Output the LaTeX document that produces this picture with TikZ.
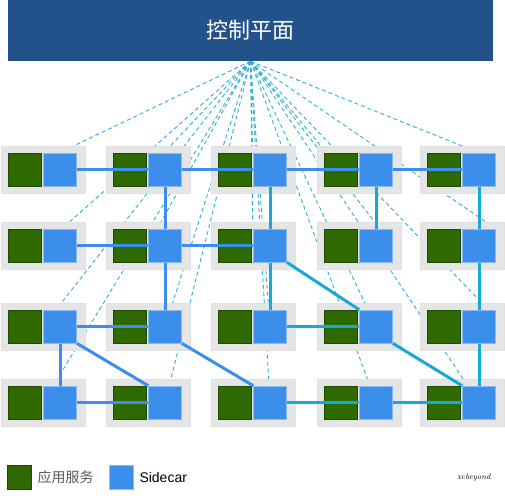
\documentclass[tikz,border=0pt]{standalone}
\usepackage{fontspec}
\newfontfamily\cjk{Noto Sans CJK SC}
\newfontfamily\arial{Liberation Sans}
\usetikzlibrary{positioning}
\definecolor{plane}{HTML}{23518A}
\definecolor{appgreen}{HTML}{2E6A00}
\definecolor{carblue}{HTML}{3B8EE9}
\definecolor{linkcyan}{HTML}{16A9D4}
\definecolor{dashcyan}{HTML}{2BAFD7}
\definecolor{podgray}{HTML}{E5E5E5}
\pgfdeclarelayer{dashes}
\pgfdeclarelayer{pods}
\pgfdeclarelayer{links}
\pgfsetlayers{dashes,pods,links,main}

\begin{document}
\begin{tikzpicture}
[x=1pt,y=-1pt,%
  pod/.style={draw=black!12,fill=podgray,line width=0.8pt,minimum width=84pt,minimum height=47pt,inner sep=0pt},%
  app/.style={draw=appgreen!70!black,fill=appgreen,line width=0.6pt,minimum size=33pt,inner sep=0pt},%
  car/.style={draw=carblue!60!white,fill=carblue,line width=0.6pt,minimum size=33pt,inner sep=0pt},%
  blue link/.style={carblue,line width=3pt},%
  cyan link/.style={linkcyan,line width=3pt},%
  ctrl/.style={dashcyan,line width=0.9pt,dash pattern=on 4pt off 3pt}]
\useasboundingbox (0,0) rectangle (505,500);
\node[fill=plane,minimum width=485pt,minimum height=61pt,inner sep=0pt,text=white,font=\cjk\fontsize{22}{26}\selectfont] (cp) at (250.5,30.5) {控制平面};

\begin{pgfonlayer}{pods}
\node[pod] (p11) at (43,169.5) {};
\node[app,right=7pt of p11.west] (a11) {};
\node[pod] (p12) at (148,169.5) {};
\node[app,right=7pt of p12.west] (a12) {};
\node[pod] (p13) at (253,169.5) {};
\node[app,right=7pt of p13.west] (a13) {};
\node[pod] (p14) at (359,169.5) {};
\node[app,right=7pt of p14.west] (a14) {};
\node[pod] (p15) at (462,169.5) {};
\node[app,right=7pt of p15.west] (a15) {};
\node[pod] (p21) at (43,245.5) {};
\node[app,right=7pt of p21.west] (a21) {};
\node[pod] (p22) at (148,245.5) {};
\node[app,right=7pt of p22.west] (a22) {};
\node[pod] (p23) at (253,245.5) {};
\node[app,right=7pt of p23.west] (a23) {};
\node[pod] (p24) at (359,245.5) {};
\node[app,right=7pt of p24.west] (a24) {};
\node[pod] (p25) at (462,245.5) {};
\node[app,right=7pt of p25.west] (a25) {};
\node[pod] (p31) at (43,326.5) {};
\node[app,right=7pt of p31.west] (a31) {};
\node[pod] (p32) at (148,326.5) {};
\node[app,right=7pt of p32.west] (a32) {};
\node[pod] (p33) at (253,326.5) {};
\node[app,right=7pt of p33.west] (a33) {};
\node[pod] (p34) at (359,326.5) {};
\node[app,right=7pt of p34.west] (a34) {};
\node[pod] (p35) at (462,326.5) {};
\node[app,right=7pt of p35.west] (a35) {};
\node[pod] (p41) at (43,402.5) {};
\node[app,right=7pt of p41.west] (a41) {};
\node[pod] (p42) at (148,402.5) {};
\node[app,right=7pt of p42.west] (a42) {};
\node[pod] (p43) at (253,402.5) {};
\node[app,right=7pt of p43.west] (a43) {};
\node[pod] (p44) at (359,402.5) {};
\node[app,right=7pt of p44.west] (a44) {};
\node[pod] (p45) at (462,402.5) {};
\node[app,right=7pt of p45.west] (a45) {};
\end{pgfonlayer}

\node[car,right=2pt of a11] (s11) {};
\node[car,right=2pt of a12] (s12) {};
\node[car,right=2pt of a13] (s13) {};
\node[car,right=2pt of a14] (s14) {};
\node[car,right=2pt of a15] (s15) {};
\node[car,right=2pt of a21] (s21) {};
\node[car,right=2pt of a22] (s22) {};
\node[car,right=2pt of a23] (s23) {};
\node[car,right=2pt of a24] (s24) {};
\node[car,right=2pt of a25] (s25) {};
\node[car,right=2pt of a31] (s31) {};
\node[car,right=2pt of a32] (s32) {};
\node[car,right=2pt of a33] (s33) {};
\node[car,right=2pt of a34] (s34) {};
\node[car,right=2pt of a35] (s35) {};
\node[car,right=2pt of a41] (s41) {};
\node[car,right=2pt of a42] (s42) {};
\node[car,right=2pt of a43] (s43) {};
\node[car,right=2pt of a44] (s44) {};
\node[car,right=2pt of a45] (s45) {};

\begin{pgfonlayer}{dashes}
\draw[ctrl] (cp.south) -- (a11);
\draw[ctrl] (cp.south) -- (p12);
\draw[ctrl] (cp.south) -- (p13);
\draw[ctrl] (cp.south) -- (a14);
\draw[ctrl] (cp.south) -- (s15.north);
\draw[ctrl] (cp.south) -- (p21);
\draw[ctrl] (cp.south) -- (p22);
\draw[ctrl] (cp.south) -- (p23);
\draw[ctrl] (cp.south) -- (s24.east);
\draw[ctrl] (cp.south) -- (s25.north east);
\draw[ctrl] (cp.south) -- (p31);
\draw[ctrl] (cp.south) -- (s32);
\draw[ctrl] (cp.south) -- (s33);
\draw[ctrl] (cp.south) -- (s34);
\draw[ctrl] (cp.south) -- (p35.east);
\draw[ctrl] (cp.south) -- (p41);
\draw[ctrl] (cp.south) -- (s42);
\draw[ctrl] (cp.south) -- (s43);
\draw[ctrl] (cp.south) -- (s44);
\draw[ctrl] (cp.south) -- (s45);
\end{pgfonlayer}

\begin{pgfonlayer}{links}
\draw[blue link] (s11) -- (s12) -- (s13) -- (s14) -- (s15);
\draw[blue link] (s12) -- (s22) -- (s32);
\draw[blue link] (s21) -- (s22) -- (s23);
\draw[blue link] (s31) -- (s32);
\draw[blue link] (s31) -- (s41) -- (s42);
\draw[blue link] (s31.south east) -- (s42.north west);
\draw[blue link] (s32.south east) -- (s43.north west);
\draw[cyan link] (s13) -- (s23) -- (s33) -- (s34);
\draw[cyan link] (s14) -- (s24);
\draw[cyan link] (s15) -- (s25) -- (s35) -- (s45);
\draw[cyan link] (s43) -- (s44) -- (s45);
\draw[cyan link] (s23.south east) -- (s34.north west);
\draw[cyan link] (s34.south east) -- (s45.north west);
\end{pgfonlayer}

\node[app,minimum size=24pt] (lapp) at (19,477) {};
\node[right=6pt of lapp,inner sep=0pt,text=black!65,font=\cjk\fontsize{14}{16}\selectfont] (tapp) {应用服务};
\node[car,minimum size=24pt] (lcar) at (121,477) {};
\node[right=6pt of lcar,inner sep=0pt,font=\arial\fontsize{14}{16}\selectfont] (tcar) {Sidecar};
\node[font=\itshape\fontsize{8}{9}\selectfont] (sig) at (474,478) {xcbeyond};
\end{tikzpicture}
\end{document}
